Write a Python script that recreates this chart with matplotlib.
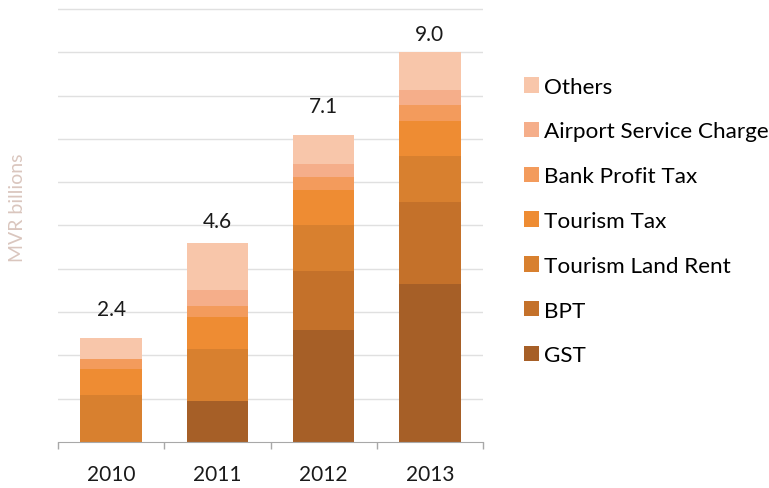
import matplotlib.pyplot as plt
import numpy as np

# Revenue by source, MVR billions
years = ['2010', '2011', '2012', '2013']
gst = [0.00, 0.94, 2.58, 3.64]
bpt = [0.00, 0.00, 1.38, 1.90]
land_rent = [1.08, 1.21, 1.04, 1.06]
tourism_tax = [0.61, 0.73, 0.81, 0.82]
bank_profit = [0.22, 0.26, 0.31, 0.37]
airport = [0.00, 0.36, 0.30, 0.35]
others = [0.49, 1.10, 0.68, 0.86]

series = [
    ('GST', gst, '#A65F27'),
    ('BPT', bpt, '#C4712A'),
    ('Tourism Land Rent', land_rent, '#D8802F'),
    ('Tourism Tax', tourism_tax, '#EE8C33'),
    ('Bank Profit Tax', bank_profit, '#F39B5C'),
    ('Airport Service Charge', airport, '#F5AE8A'),
    ('Others', others, '#F8C6AA'),
]

plt.rcParams['font.family'] = ['Lato', 'DejaVu Sans']

fig = plt.figure(figsize=(7.69, 4.89), dpi=100)
ax = fig.add_axes([58 / 769, 1 - 443 / 489, 425 / 769, 435.2 / 489])

x = np.arange(len(years))
bottom = np.zeros(len(years))
handles = []
for name, vals, color in series:
    vals = np.array(vals)
    h = ax.bar(x, vals, width=0.58, bottom=bottom, color=color, label=name, zorder=2)
    handles.append(h)
    bottom += vals

# totals above each bar
gaps = [19, 12, 19, 8]
for xi, total, gap in zip(x, bottom, gaps):
    ax.annotate(f'{total:.1f}', (xi, total), xytext=(0, gap * 0.72),
                textcoords='offset points', ha='center', va='bottom',
                fontsize=15, color='#1a1a1a')

ax.set_xlim(-0.5, 3.5)
ax.set_ylim(0, 10.05)
ax.set_yticks(np.arange(1, 11))
ax.yaxis.grid(True, color='#E0E0E0', linewidth=1.0, zorder=0)
ax.tick_params(axis='y', left=False, labelleft=False)

ax.set_xticks(x)
ax.set_xticklabels(years, fontsize=15, color='#1a1a1a')
ax.set_xticks(np.arange(-0.5, 4, 1), minor=True)
ax.tick_params(axis='x', which='major', length=0, pad=16)
ax.tick_params(axis='x', which='minor', length=5, color='#A8A8A8', width=1)

for side in ['top', 'right', 'left']:
    ax.spines[side].set_visible(False)
ax.spines['bottom'].set_color('#A8A8A8')
ax.spines['bottom'].set_zorder(3)

fig.text(18 / 769, 1 - 208 / 489, 'MVR billions', rotation=90,
         ha='center', va='center', fontsize=14, fontweight='normal',
         color='#DAC6BE')

fig.legend(handles=handles[::-1], loc='center left',
           bbox_to_anchor=(524 / 769, 1 - 222 / 489), frameon=False,
           fontsize=16.2, handlelength=0.68, handleheight=0.68,
           handletextpad=0.2, labelspacing=1.1, borderpad=0,
           borderaxespad=0)

fig.savefig('out.png', dpi=100)
